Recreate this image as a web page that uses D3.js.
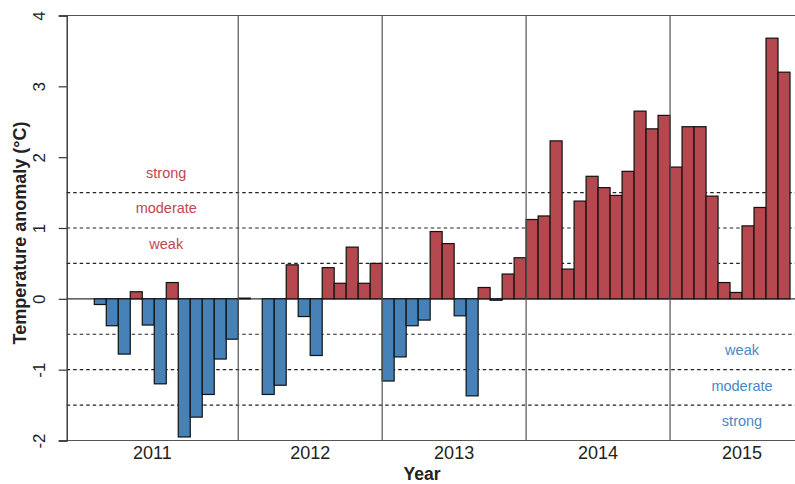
<!DOCTYPE html>
<html>
<head>
<meta charset="utf-8">
<script src="https://cdn.jsdelivr.net/npm/d3@7"></script>
<style>
  html, body { margin: 0; padding: 0; background: #fff; }
  svg { display: block; font-family: "Liberation Sans", Arial, sans-serif; }
</style>
</head>
<body>
<svg id="chart" width="795" height="484"></svg>
<script>
// Monthly temperature anomalies (°C), Jan 2011 – Oct 2015
const years = [2011, 2012, 2013, 2014, 2015];
const anom2011 = [-0.08, -0.38, -0.78, 0.10, -0.37, -1.20, 0.23, -1.95, -1.67, -1.35, -0.85, -0.57];
const anom2012 = [0.01, 0.0, -1.35, -1.22, 0.48, -0.25, -0.80, 0.44, 0.22, 0.73, 0.22, 0.50];
const anom2013 = [-1.16, -0.82, -0.38, -0.30, 0.95, 0.78, -0.24, -1.37, 0.16, -0.02, 0.35, 0.58];
const anom2014 = [1.12, 1.17, 2.23, 0.42, 1.38, 1.73, 1.57, 1.46, 1.80, 2.65, 2.40, 2.59];
const anom2015 = [1.86, 2.43, 2.43, 1.45, 0.23, 0.09, 1.03, 1.29, 3.68, 3.20];
const values = [].concat(anom2011, anom2012, anom2013, anom2014, anom2015);

// Intensity thresholds and their labels
const thresholds = [-1.5, -1, -0.5, 0.5, 1, 1.5];
const warmLabels = [{ text: "weak", v: 0.75 }, { text: "moderate", v: 1.25 }, { text: "strong", v: 1.75 }];
const coolLabels = [{ text: "weak", v: -0.75 }, { text: "moderate", v: -1.25 }, { text: "strong", v: -1.75 }];
const yTicks = [-2, -1, 0, 1, 2, 3, 4];

const warmFill = "#b5474e", coolFill = "#4682b8";
const warmText = "#c0484f", coolText = "#4b87c5";

const svg = d3.select("#chart");

// x in month index (0 = Jan 2011); the frame runs a little before the first month
const x = d3.scaleLinear().domain([-2.3, 60]).range([66.7, 814]);
const y = d3.scaleLinear().domain([-2, 4]).range([440.5, 15.5]);
const [x0, x1] = x.range();

// Threshold dashed lines
svg.append("g").selectAll("line").data(thresholds).join("line")
  .attr("x1", x0).attr("x2", x1)
  .attr("y1", d => y(d)).attr("y2", d => y(d))
  .attr("stroke", "#222").attr("stroke-width", 1.2)
  .attr("stroke-dasharray", "3.5,3");

// Zero line
svg.append("line")
  .attr("x1", x0).attr("x2", x1).attr("y1", y(0)).attr("y2", y(0))
  .attr("stroke", "#333").attr("stroke-width", 1.2);

// Bars
svg.append("g").selectAll("rect").data(values).join("rect")
  .attr("x", (d, i) => x(i))
  .attr("width", (d, i) => x(i + 1) - x(i))
  .attr("y", d => y(Math.max(0, d)))
  .attr("height", d => Math.abs(y(d) - y(0)))
  .attr("fill", d => d >= 0 ? warmFill : coolFill)
  .attr("stroke", "#111").attr("stroke-width", 1.2);

// Year dividers
svg.append("g").selectAll("line").data(years.slice(1)).join("line")
  .attr("x1", (d, i) => x((i + 1) * 12)).attr("x2", (d, i) => x((i + 1) * 12))
  .attr("y1", y(4)).attr("y2", y(-2))
  .attr("stroke", "#555").attr("stroke-width", 1.2);

// Frame top and bottom
[4, -2].forEach(v => {
  svg.append("line").attr("x1", x0).attr("x2", x1)
    .attr("y1", y(v)).attr("y2", y(v))
    .attr("stroke", "#555").attr("stroke-width", 1.2);
});

// Threshold labels
svg.append("g").selectAll("text").data(warmLabels).join("text")
  .attr("x", x(6)).attr("y", d => y(d.v) - 2)
  .attr("text-anchor", "middle").attr("dominant-baseline", "central")
  .attr("font-size", 14.5).attr("fill", warmText)
  .text(d => d.text);
svg.append("g").selectAll("text").data(coolLabels).join("text")
  .attr("x", x(54)).attr("y", d => y(d.v) - 1.5)
  .attr("text-anchor", "middle").attr("dominant-baseline", "central")
  .attr("font-size", 14.5).attr("fill", coolText)
  .text(d => d.text);

// Y axis
const yAxis = d3.axisLeft(y).tickValues(yTicks).tickSize(8).tickPadding(0).tickFormat(d => String(d));
const gy = svg.append("g").attr("transform", `translate(${x0},0)`).call(yAxis);
gy.select(".domain").attr("stroke", "#333").attr("stroke-width", 1.4);
gy.selectAll(".tick line").attr("stroke", "#333").attr("stroke-width", 1.2);
gy.selectAll(".tick text")
  .attr("x", null).attr("dy", null)
  .attr("transform", "translate(-27,0) rotate(-90)")
  .attr("text-anchor", "middle").attr("dominant-baseline", "central")
  .attr("font-size", 17).attr("fill", "#222");

// Year labels centred in each year's span of the frame
const bounds = [x0, x(12), x(24), x(36), x(48), x1];
svg.append("g").selectAll("text").data(years).join("text")
  .attr("x", (d, i) => (bounds[i] + bounds[i + 1]) / 2)
  .attr("y", 459)
  .attr("text-anchor", "middle")
  .attr("font-size", 18).attr("fill", "#222")
  .text(d => d);

// Axis titles
svg.append("text")
  .attr("x", 422).attr("y", 480)
  .attr("text-anchor", "middle").attr("font-weight", "bold")
  .attr("font-size", 17.5).attr("fill", "#222")
  .text("Year");
svg.append("text")
  .attr("transform", "translate(20,233) rotate(-90)")
  .attr("text-anchor", "middle").attr("dominant-baseline", "central")
  .attr("font-weight", "bold").attr("font-size", 18).attr("fill", "#222")
  .text("Temperature anomaly (°C)");
</script>
</body>
</html>
